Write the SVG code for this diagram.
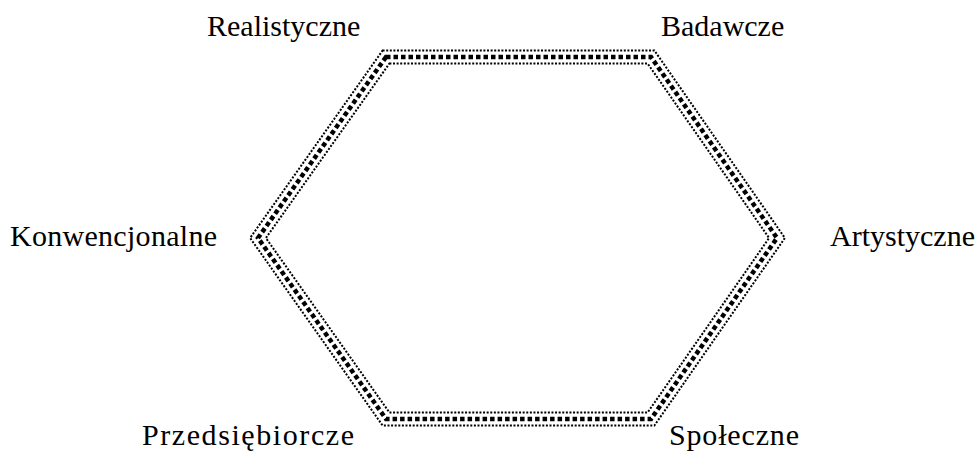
<svg xmlns="http://www.w3.org/2000/svg" width="977" height="455" viewBox="0 0 977 455">
<style>
.lbl{font-family:"Liberation Serif","Times New Roman",serif;font-size:30px;fill:#000}
.thin{fill:none;stroke:#000;stroke-width:2;stroke-dasharray:2 1.6}
.thick{fill:none;stroke:#000;stroke-width:4.5;stroke-dasharray:4.5 3}
</style>
<rect width="977" height="455" fill="#fff"/>
<g id="connectors">
<polygon class="thin" points="382.6,50.5 654.4,50.5 784.9,238 654.4,425.5 382.6,425.5 250.1,238"/>
<polygon class="thick" points="386,57 651,57 777,238 651,419 386,419 258,238"/>
<polygon class="thin" points="389.4,63.5 647.6,63.5 769.1,238 647.6,412.5 389.4,412.5 265.9,238"/>
</g>
<g id="realistyczne"><text class="lbl" x="207" y="36">Realistyczne</text></g>
<g id="badawcze"><text class="lbl" x="661" y="36">Badawcze</text></g>
<g id="artystyczne"><text class="lbl" x="830" y="246">Artystyczne</text></g>
<g id="konwencjonalne"><text class="lbl" x="10" y="246" textLength="207" lengthAdjust="spacing">Konwencjonalne</text></g>
<g id="przedsiebiorcze"><text class="lbl" x="142" y="445" textLength="212" lengthAdjust="spacing">Przedsiębiorcze</text></g>
<g id="spoleczne"><text class="lbl" x="669" y="445" textLength="130" lengthAdjust="spacing">Społeczne</text></g>
</svg>
